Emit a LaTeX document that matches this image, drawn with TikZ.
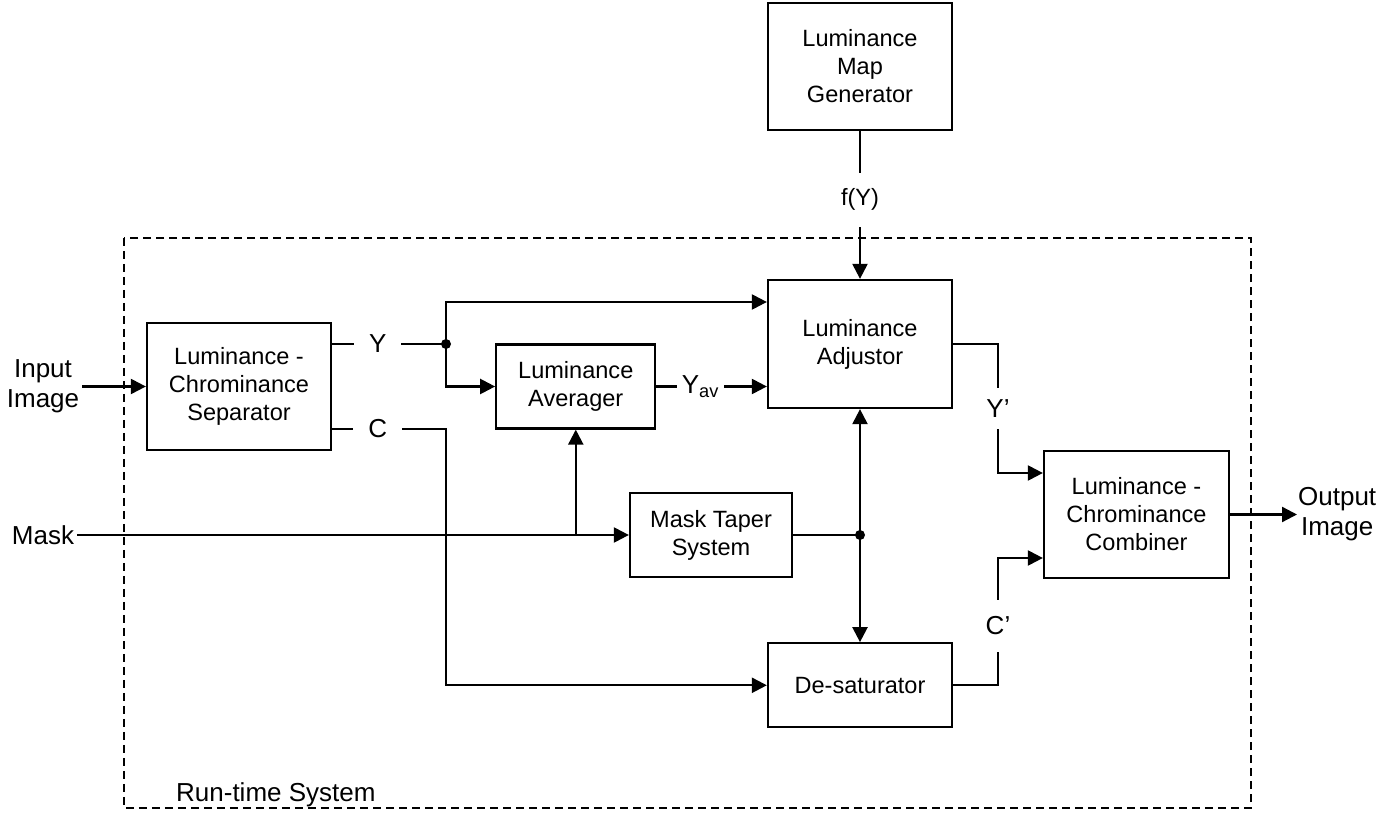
\documentclass[tikz,border=0pt]{standalone}
\usepackage{fontspec}
\setmainfont{Liberation Sans}
\usepackage{tikz}
\usetikzlibrary{arrows.meta,positioning}
\newcommand\blkfont{\fontsize{13.4}{15.9}\selectfont}
\newcommand\sigfont{\fontsize{14.8}{17}\selectfont}
\tikzset{
  block diagram/.style={
    font=\blkfont,
    >={Triangle[length=3mm,width=3mm]},
    line width=1.3pt
  },
  blockbox/.style={
    draw,
    rectangle,
    align=center,
    line width=1.3pt,
    inner sep=2pt,
    minimum width=3.68cm
  },
  sigarrow/.style={
    ->,
    line width=1.3pt
  },
  sigline/.style={
    line width=1.3pt
  },
  siglabel/.style={
    fill=white,
    font=\sigfont,
    inner xsep=0.3cm,
    inner ysep=0pt
  },
  iolabel/.style={
    font=\sigfont,
    align=center,
    inner sep=1pt
  },
  junction/.style={
    circle,
    fill,
    inner sep=0pt,
    minimum size=2mm
  },
  runtimeframe/.style={
    draw,
    dash pattern=on 1.6mm off 1mm,
    line width=1.3pt
  }
}
\begin{document}
\begin{tikzpicture}[block diagram]
\useasboundingbox (0,0) rectangle (27.96,-16.26);
\draw[runtimeframe] (2.48,-4.76) rectangle (25.02,-16.16);
\node[anchor=west, inner sep=0pt, font=\sigfont] (rts) at (3.5,-15.9) {Run-time System};

\node[blockbox, minimum height=2.54cm] (sep) at (4.78,-7.73) {Luminance -\\Chrominance\\Separator};
\node[blockbox, minimum width=3.18cm, minimum height=1.68cm, right=3.26cm of sep] (avg) {Luminance\\Averager};
\node[blockbox, minimum height=2.56cm] (adj) at (17.2,-6.88) {Luminance\\Adjustor};
\node[blockbox, minimum height=2.54cm, above=2.96cm of adj] (mapgen) {Luminance\\Map\\Generator};
\node[blockbox, minimum height=1.68cm, below=4.66cm of adj] (desat) {De-saturator};
\node[blockbox, minimum width=3.24cm, minimum height=1.68cm] (taper) at (14.22,-10.7) {Mask Taper\\System};
\node[blockbox, minimum width=3.7cm, minimum height=2.54cm] (comb) at (22.73,-10.29) {Luminance -\\Chrominance\\Combiner};

\node[iolabel] (input) at (0.86,-7.73) {Input\\Image};
\node[iolabel, anchor=east] (mask) at (1.54,-10.7) {Mask};
\node[iolabel, anchor=west, inner sep=0pt] (output) at (25.94,-10.29) {Output\\Image};

\coordinate (yjoin) at (8.92,-6.88);
\coordinate (ytop) at (8.92,-6.04);
\coordinate (cline) at (8.92,-8.58);
\coordinate (mbranch) at (avg.south |- mask.east);
\coordinate (mdot) at (adj.south |- taper.east);
\coordinate (yp) at (19.96,-9.46);
\coordinate (cp) at (19.96,-11.16);

\draw[sigarrow] (input.east) -- (input.east -| sep.west);
\draw[sigline] (sep.east |- yjoin) -- node[siglabel, pos=0.4] {Y} (yjoin);
\draw[sigarrow] (yjoin) -- (ytop) -- (ytop -| adj.west);
\draw[sigarrow] (yjoin) |- (avg.west);
\draw[sigarrow] (sep.east |- cline) -- node[siglabel, pos=0.4] {C} (cline) |- (desat.west);
\draw[sigarrow] (avg.east) -- node[siglabel, pos=0.4, inner xsep=0.09cm] {Y\textsubscript{av}} (avg.east -| adj.west);
\draw[sigarrow] (mapgen.south) -- node[siglabel, pos=0.466, font=\blkfont, inner ysep=0.32cm] {f(Y)} (adj.north);
\draw[sigarrow] (mask.east) -- (taper.west);
\draw[sigarrow] (mbranch) -- (avg.south);
\draw[sigline] (taper.east) -- (mdot);
\draw[sigarrow] (mdot) -- (adj.south);
\draw[sigarrow] (mdot) -- (desat.north);
\draw[sigarrow] (adj.east) -| node[siglabel, pos=0.75, inner ysep=0.24cm] {Y'} (yp) -- (yp -| comb.west);
\draw[sigarrow] (desat.east) -| node[siglabel, pos=0.734, inner ysep=0.34cm] {C'} (cp) -- (cp -| comb.west);
\draw[sigarrow] (comb.east) -- (comb.east -| output.west);
\node[junction] at (yjoin) {};
\node[junction] at (mdot) {};
\end{tikzpicture}
\end{document}
